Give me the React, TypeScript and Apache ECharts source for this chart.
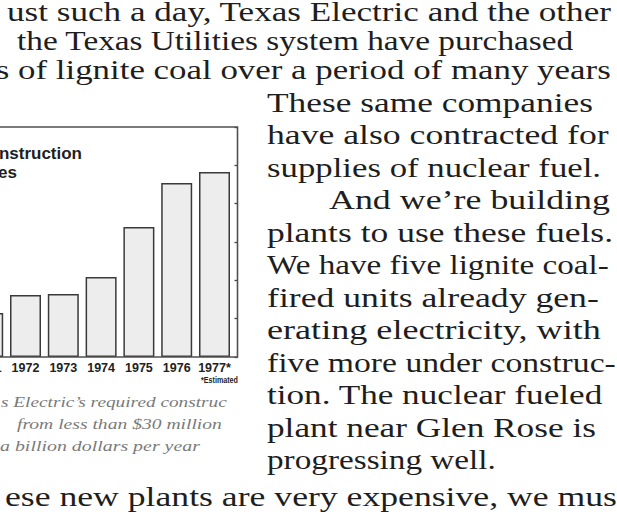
import React, { useEffect, useRef } from "react";
import * as echarts from "echarts";

// ---- data ----
const years = ["1971", "1972", "1973", "1974", "1975", "1976", "1977*"];
const spending = [230, 323, 329, 417, 678, 908, 965]; // required construction funds, $ millions
const yMin = 0;
const yMax = 1200;
const yInterval = 200;

// ---- texts ----
const titleLines = ["nstruction", "es"];
const footnote = "*Estimated";
const captionLines = [
  "s Electric\u2019s required construc",
  "from less than $30 million",
  "a billion dollars per year",
];
const topLines = [
  "ust such a day, Texas Electric and the other",
  "the Texas Utilities system have purchased",
  "s of lignite coal over a period of many years",
];
const columnLines = [
  "These same companies",
  "have also contracted for",
  "supplies of nuclear fuel.",
  "And we\u2019re building",
  "plants to use these fuels.",
  "We have five lignite coal-",
  "fired units already gen-",
  "erating electricity, with",
  "five more under construc-",
  "tion. The nuclear fueled",
  "plant near Glen Rose is",
  "progressing well.",
];
const bottomLine = "ese new plants are very expensive, we must";

// ---- layout ----
const OX = 60; // chart canvas extends 60px to the left of the page
const W = 617;
const H = 516;
const BAND = 37.8;
const GRID_LEFT = -31.2;
const GRID_TOP = 127;
const GRID_H = 230;
const FRAME_RIGHT = 237.5;
const SERIF = "Liberation Serif";
const SANS = "Liberation Sans";
const INK = "#1e1e1e";

const topBaselines = [21, 50, 79];
const colTop = 112;
const colStep = 32.5;
const bottomBaseline = 506;
const colLefts = [267, 267, 267, 329, 267, 267, 267, 267, 267, 267, 267, 267];
const colRights = [593, 609, 601, 610, 613, 609, 599, 601, 616, 603, 596, 496];

let ctx: CanvasRenderingContext2D | null = null;
function measure(text: string, font: string) {
  if (!ctx) ctx = document.createElement("canvas").getContext("2d");
  ctx!.font = font;
  return ctx!.measureText(text).width;
}

function fitText(
  text: string,
  refStart: number,
  refEnd: number,
  left: number,
  right: number,
  baseline: number,
  size: number,
  family: string,
  weight = "normal",
  fstyle = "normal",
  fill = INK
) {
  const font = `${fstyle} ${weight} ${size}px "${family}"`;
  const refW = measure(text.slice(refStart, refEnd), font);
  const s = (right - left) / refW;
  const pre = measure(text.slice(0, refStart), font) * s;
  return {
    type: "text",
    silent: true,
    x: OX + left - pre,
    y: baseline - 0.34 * size,
    scaleX: s,
    style: {
      text,
      x: 0,
      y: 0,
      fontSize: size,
      fontFamily: family,
      fontWeight: weight,
      fontStyle: fstyle,
      fill,
      align: "left",
      verticalAlign: "middle",
    },
  };
}

function simple(text: string, left: number, right: number, baseline: number, size: number, family: string, weight = "normal", fstyle = "normal", fill = INK) {
  return fitText(text, 0, text.length, left, right, baseline, size, family, weight, fstyle, fill);
}

export default function App() {
  const ref = useRef<HTMLDivElement>(null);
  useEffect(() => {
    if (!ref.current) return;
    const chart = echarts.init(ref.current, undefined, { renderer: "svg" });
    const BODY = 27;

    const graphics: any[] = [];
    // chart frame
    graphics.push({
      type: "polyline",
      silent: true,
      shape: {
        points: [
          [0, GRID_TOP],
          [OX + FRAME_RIGHT, GRID_TOP],
          [OX + FRAME_RIGHT, GRID_TOP + GRID_H],
          [0, GRID_TOP + GRID_H],
        ],
      },
      style: { stroke: "#505050", lineWidth: 1.6, fill: "none" },
      z: 10,
    });
    // chart title
    graphics.push({
      type: "text",
      silent: true,
      x: OX + 82,
      y: 159 - 0.35 * 17,
      style: { text: titleLines[0], fontSize: 17, fontWeight: "bold", fontFamily: SANS, fill: INK, align: "right", verticalAlign: "middle" },
    });
    graphics.push({
      type: "text",
      silent: true,
      x: OX + 17,
      y: 178 - 0.35 * 17,
      style: { text: titleLines[1], fontSize: 17, fontWeight: "bold", fontFamily: SANS, fill: INK, align: "right", verticalAlign: "middle" },
    });
    graphics.push(simple(footnote, 201, 238, 383.5, 9, SANS, "bold", "normal", "#222"));
    // caption
    graphics.push(simple(captionLines[0], 1, 227, 407, 15, SERIF, "normal", "italic", "#7a7a7a"));
    graphics.push(simple(captionLines[1], 17, 222, 429, 15, SERIF, "normal", "italic", "#7a7a7a"));
    graphics.push(simple(captionLines[2], 0, 200, 451, 15, SERIF, "normal", "italic", "#7a7a7a"));
    // body text
    graphics.push(simple(topLines[0], 7, 612, topBaselines[0], BODY, SERIF));
    graphics.push(simple(topLines[1], 17, 574, topBaselines[1], BODY, SERIF));
    graphics.push(fitText(topLines[2], 2, topLines[2].length, 18, 611, topBaselines[2], BODY, SERIF));
    columnLines.forEach((t, i) => {
      graphics.push(simple(t, colLefts[i], colRights[i], colTop + colStep * i, BODY, SERIF));
    });
    graphics.push(fitText(bottomLine, 0, bottomLine.length - 1, 5, 617, bottomBaseline, BODY, SERIF));

    chart.setOption({
      animation: false,
      backgroundColor: "#ffffff",
      grid: { left: OX + GRID_LEFT, top: GRID_TOP, width: BAND * years.length, height: GRID_H, containLabel: false },
      xAxis: {
        type: "category",
        data: years,
        axisLine: { show: false },
        axisTick: { show: false },
        axisLabel: { interval: 0, color: "#222", fontSize: 12.5, fontWeight: "bold", fontFamily: SANS, margin: 4 },
        splitLine: { show: false },
      },
      yAxis: {
        type: "value",
        position: "right",
        offset: FRAME_RIGHT - (GRID_LEFT + BAND * years.length),
        min: yMin,
        max: yMax,
        interval: yInterval,
        axisLine: { show: false },
        axisTick: { show: true, inside: true, length: 3, lineStyle: { color: "#444", width: 1.3 } },
        axisLabel: { show: false },
        splitLine: { show: false },
      },
      series: [
        {
          type: "bar",
          data: spending,
          barWidth: 31,
          itemStyle: { color: "#ededed", borderColor: "#3a3a3a", borderWidth: 1.5 },
        },
      ],
      graphic: graphics,
    });
    return () => chart.dispose();
  }, []);
  return (
    <div
      ref={ref}
      style={{ position: "fixed", left: -OX, top: 0, width: W + OX, height: H, background: "#fff" }}
    />
  );
}
